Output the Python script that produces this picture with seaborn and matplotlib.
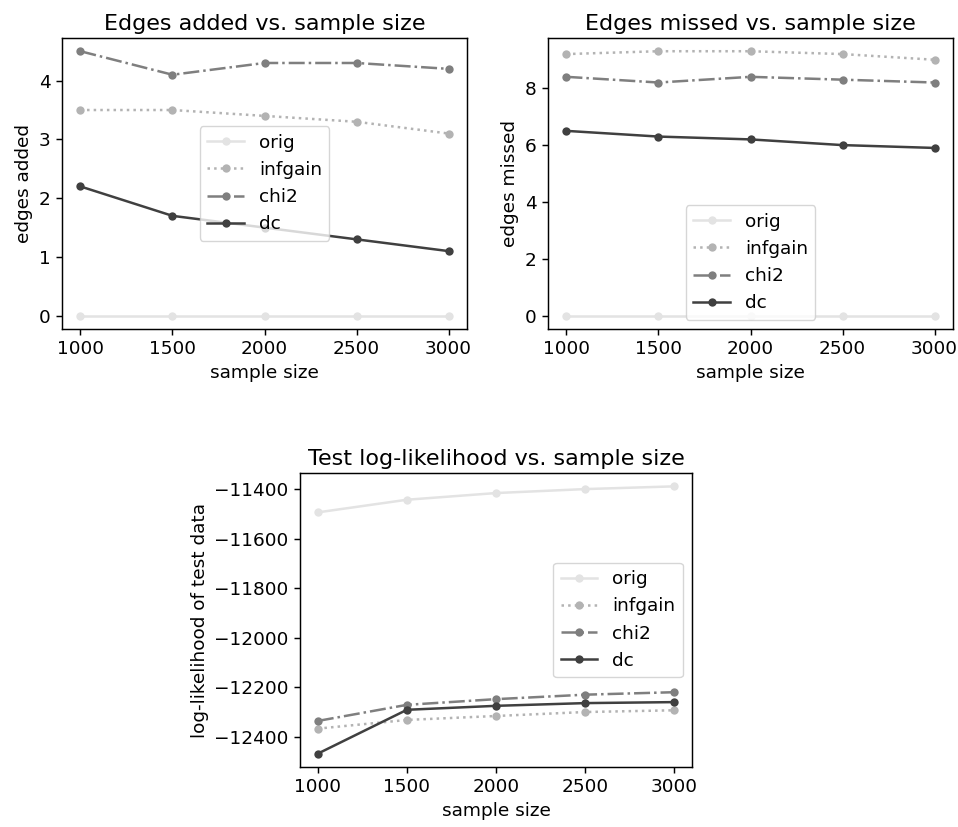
import pandas as pd
import numpy as np
import matplotlib
matplotlib.use("Agg")
import matplotlib.pyplot as plt
import seaborn as sns

# -----------------------------
# DATA
# -----------------------------
sample_sizes = [1000, 1500, 2000, 2500, 3000]
methods = ['orig', 'infgain', 'chi2', 'dc']

added_orig = [0, 0, 0, 0, 0]
added_infgain = [3.5, 3.5, 3.4, 3.3, 3.1]
added_chi2 = [4.5, 4.1, 4.3, 4.3, 4.2]
added_dc = [2.2, 1.7, 1.5, 1.3, 1.1]

missed_orig = [0, 0, 0, 0, 0]
missed_infgain = [9.2, 9.3, 9.3, 9.2, 9.0]
missed_chi2 = [8.4, 8.2, 8.4, 8.3, 8.2]
missed_dc = [6.5, 6.3, 6.2, 6.0, 5.9]

ll_orig = [-11494, -11443, -11416, -11400, -11389]
ll_infgain = [-12367, -12332, -12316, -12300, -12293]
ll_chi2 = [-12336, -12271, -12248, -12230, -12220]
ll_dc = [-12468, -12291, -12275, -12264, -12260]


def long_form(orig, infgain, chi2, dc):
    rows = []
    for name, vals in zip(methods, [orig, infgain, chi2, dc]):
        for n, v in zip(sample_sizes, vals):
            rows.append({'sample size': n, 'value': v, 'method': name})
    return pd.DataFrame(rows)


df_added = long_form(added_orig, added_infgain, added_chi2, added_dc)
df_missed = long_form(missed_orig, missed_infgain, missed_chi2, missed_dc)
df_ll = long_form(ll_orig, ll_infgain, ll_chi2, ll_dc)

# -----------------------------
# STYLE
# -----------------------------
palette = {'orig': '#e3e3e3', 'infgain': '#b3b3b3', 'chi2': '#7f7f7f', 'dc': '#404040'}
dashes = {'orig': '', 'infgain': (1, 1.65), 'chi2': (6.4, 1.6, 1, 1.6), 'dc': ''}
markers = {m: 'o' for m in methods}

FS = 13.3
plt.rcParams['axes.linewidth'] = 1.05
plt.rcParams['xtick.major.size'] = 4.6
plt.rcParams['ytick.major.size'] = 4.6
plt.rcParams['xtick.major.width'] = 1.05
plt.rcParams['ytick.major.width'] = 1.05


def draw(ax, df, title, ylabel, loc):
    sns.lineplot(data=df, x='sample size', y='value', hue='method', style='method',
                 hue_order=methods, style_order=methods, palette=palette,
                 dashes=dashes, markers=markers, markersize=6, linewidth=1.8,
                 markeredgewidth=0, ax=ax)
    ax.set_title(title, fontsize=16)
    ax.set_xlabel('sample size', fontsize=FS)
    ax.set_ylabel(ylabel, fontsize=FS)
    ax.set_xticks(sample_sizes)
    ax.tick_params(labelsize=FS)
    sns.move_legend(ax, loc, title=None, fontsize=FS)


fig = plt.figure(figsize=(9.58, 8.27), dpi=100)
ax1 = fig.add_axes([62 / 958, 1 - 329 / 827, 405 / 958, 291 / 827])
ax2 = fig.add_axes([548 / 958, 1 - 329 / 827, 405 / 958, 291 / 827])
ax3 = fig.add_axes([300 / 958, 1 - 767 / 827, 392 / 958, 294 / 827])

draw(ax1, df_added, 'Edges added vs. sample size', 'edges added', 'center')
draw(ax2, df_missed, 'Edges missed vs. sample size', 'edges missed', 'lower center')
draw(ax3, df_ll, 'Test log-likelihood vs. sample size', 'log-likelihood of test data', 'center right')

fig.savefig('out.png', dpi=100)
